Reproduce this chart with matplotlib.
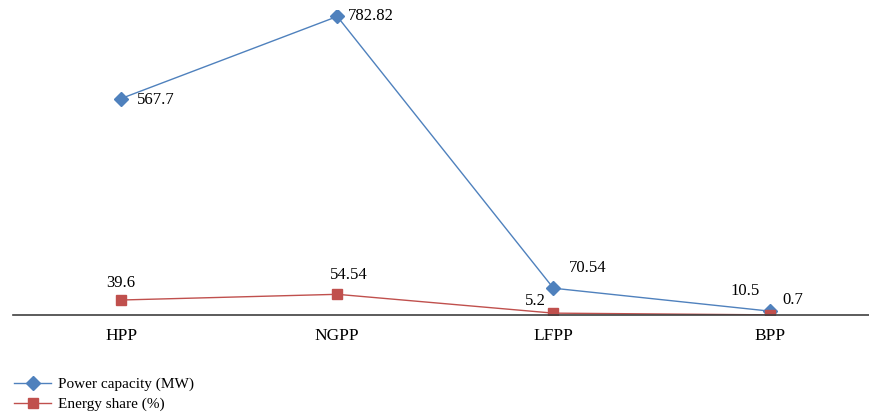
import matplotlib

matplotlib.use("Agg")

import matplotlib.pyplot as plt  # noqa: E402

plt.rcParams["font.family"] = ["Liberation Serif", "DejaVu Serif"]

categories = ["HPP", "NGPP", "LFPP", "BPP"]
power_capacity = [567.7, 782.82, 70.54, 10.5]
energy_share = [39.6, 54.54, 5.2, 0.7]
power_labels = ["567.7", "782.82", "70.54", "10.5"]
share_labels = ["39.6", "54.54", "5.2", "0.7"]

BLUE = "#4F81BD"
RED = "#C0504D"

fig = plt.figure(figsize=(8.69, 4.13), dpi=100)
ax = fig.add_axes([0.015, 0.237, 0.985, 0.739])

x = range(len(categories))
ax.plot(x, power_capacity, color=BLUE, lw=1.0, marker="D", ms=7,
        label="Power capacity (MW)")
ax.plot(x, energy_share, color=RED, lw=1.0, marker="s", ms=7,
        label="Energy share (%)")

# label offsets in pixels, hand-placed like the original
power_off = [(16, -1, "left"), (11, 0, "left"), (15, 20, "left"), (-10, 20, "right")]
share_off = [(0, 17, "center"), (12, 19, "center"), (-18, 12, "center"), (13, 15, "left")]
for i, (val, lab) in enumerate(zip(power_capacity, power_labels)):
    dx, dy, ha = power_off[i]
    ax.annotate(lab, (i, val), xytext=(dx, dy), textcoords="offset pixels",
                ha=ha, va="center", fontsize=12)
for i, (val, lab) in enumerate(zip(energy_share, share_labels)):
    dx, dy, ha = share_off[i]
    ax.annotate(lab, (i, val), xytext=(dx, dy), textcoords="offset pixels",
                ha=ha, va="center", fontsize=12)

ax.set_xlim(-0.5, 3.46)
ax.set_ylim(0, 800)
ax.set_xticks(list(x))
ax.set_xticklabels(categories, fontsize=12.5)
ax.tick_params(axis="x", length=0, pad=9)
ax.set_yticks([])
for side in ["top", "right", "left"]:
    ax.spines[side].set_visible(False)
ax.spines["bottom"].set_color("#404040")
ax.spines["bottom"].set_linewidth(1.2)

fig.legend(loc="lower left", bbox_to_anchor=(0.006, -0.018), frameon=False,
           fontsize=11, handlelength=2.4, handletextpad=0.45,
           labelspacing=0.4, borderaxespad=0.2)

fig.savefig("out.png", dpi=100)
plt.close(fig)
